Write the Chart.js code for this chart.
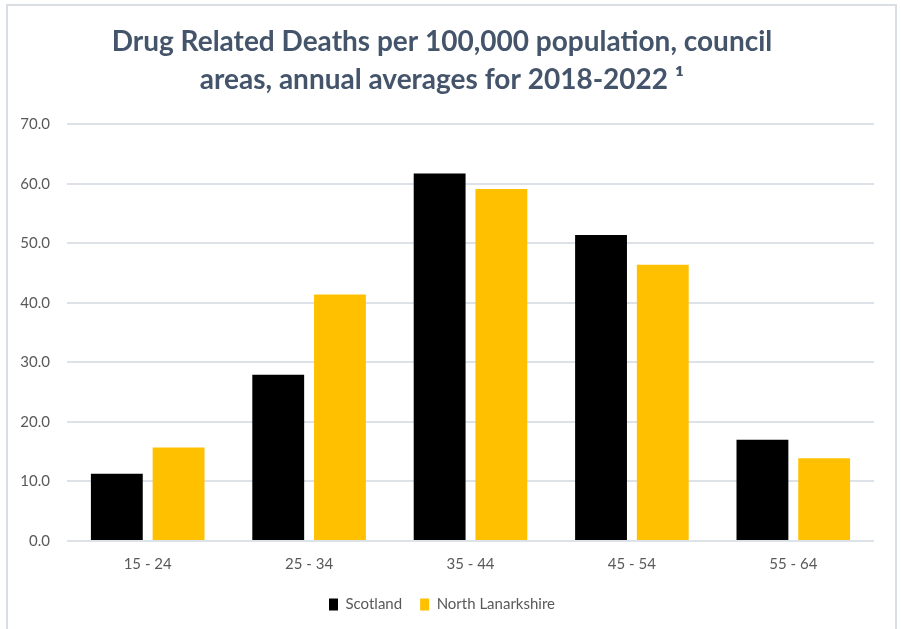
<!DOCTYPE html>
<html>
<head>
<meta charset="utf-8">
<script src="https://cdn.jsdelivr.net/npm/chart.js@4.4.1/dist/chart.umd.min.js"></script>
<style>
html,body{margin:0;padding:0;background:#fff;}
#wrap{position:relative;width:901px;height:629px;}
</style>
</head>
<body>
<div id="wrap"><canvas id="chart" width="901" height="629"></canvas></div>
<script>
const ageGroups = ["15 - 24","25 - 34","35 - 44","45 - 54","55 - 64"];
const scotland = [11.3, 27.9, 61.7, 51.4, 17.0];
const northLanarkshire = [15.7, 41.4, 59.1, 46.4, 13.9];
const yTicks = [0, 10, 20, 30, 40, 50, 60, 70];

const fontName = "Lato, 'Open Sans', sans-serif";
const gridColor = "#DDE2E8";

// frame round the chart, open at the bottom like the original
const framePlugin = {
  id: "frame",
  afterDraw(c){
    const ctx = c.ctx;
    ctx.save();
    ctx.strokeStyle = "#D9DEE5";
    ctx.lineWidth = 2;
    ctx.beginPath();
    ctx.moveTo(7, 640);
    ctx.lineTo(7, 5);
    ctx.lineTo(896, 5);
    ctx.lineTo(896, 640);
    ctx.stroke();
    ctx.restore();
  }
};

const chart = new Chart(document.getElementById("chart"), {
  type: "bar",
  data: {
    labels: ageGroups,
    datasets: [
      {label: "Scotland", data: scotland, backgroundColor: "#000000",
       categoryPercentage: 0.765, barPercentage: 0.84},
      {label: "North Lanarkshire", data: northLanarkshire, backgroundColor: "#FFC000",
       categoryPercentage: 0.765, barPercentage: 0.84}
    ]
  },
  options: {
    responsive: false,
    animation: false,
    layout: {padding: {left: 10, right: 27, top: 8, bottom: 7}},
    plugins: {
      title: {
        display: true,
        text: ["Drug Related Deaths per 100,000 population, council", "areas, annual averages for 2018-2022 \u00b9"],
        color: "#44546A",
        font: {family: fontName, size: 28, weight: "bold", lineHeight: 1.36},
        padding: {top: 15, bottom: 25}
      },
      legend: {
        position: "bottom",
        labels: {
          color: "#595959",
          font: {family: fontName, size: 15},
          boxWidth: 9,
          boxHeight: 12,
          padding: 18
        }
      },
      tooltip: {enabled: false}
    },
    scales: {
      x: {
        grid: {display: false},
        border: {display: false},
        ticks: {color: "#595959", font: {family: fontName, size: 15}, padding: 6}
      },
      y: {
        min: 0,
        max: 70,
        afterBuildTicks(s){ s.ticks = yTicks.map(v => ({value: v})); },
        afterFit(s){ s.width = 57; },
        grid: {color: gridColor, lineWidth: 2, drawTicks: false},
        border: {display: false},
        ticks: {
          color: "#595959",
          font: {family: fontName, size: 15},
          padding: 17,
          callback: v => v.toFixed(1)
        }
      }
    }
  },
  plugins: [framePlugin]
});
</script>
</body>
</html>
